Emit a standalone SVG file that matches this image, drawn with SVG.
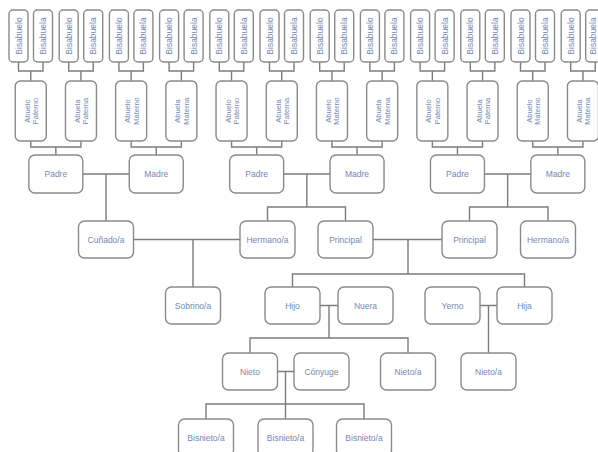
<svg xmlns="http://www.w3.org/2000/svg" width="598" height="452" viewBox="0 0 598 452">
<style>
rect{fill:#fff;stroke:#8a8a8a;stroke-width:1.4}
text{font-family:"Liberation Sans",Arial,sans-serif;font-size:8.5px;fill:#7488b0;text-anchor:middle;dominant-baseline:central}
.v{font-size:7.5px}
.c path{fill:none;stroke:#7c7c7c;stroke-width:1.4}
</style>
<rect x="0" y="0" width="598" height="452" style="fill:#fff;stroke:none"/>
<g class="c" id="connectors">
<path d="M18.5 62V71H43V62M30.75 71V81"/>
<path d="M68.7 62V71H93.2V62M80.95 71V81"/>
<path d="M118.9 62V71H143.4V62M131.15 71V81"/>
<path d="M169.1 62V71H193.6V62M181.35 71V81"/>
<path d="M219.3 62V71H243.8V62M231.55 71V81"/>
<path d="M269.5 62V71H294V62M281.75 71V81"/>
<path d="M319.7 62V71H344.2V62M331.95 71V81"/>
<path d="M369.9 62V71H394.4V62M382.15 71V81"/>
<path d="M420.1 62V71H444.6V62M432.35 71V81"/>
<path d="M470.3 62V71H494.8V62M482.55 71V81"/>
<path d="M520.5 62V71H545V62M532.75 71V81"/>
<path d="M570.7 62V71H595.2V62M582.95 71V81"/>
<path d="M30.75 141V147H80.95V141M55.85 147V155"/>
<path d="M131.15 141V147H181.35V141M156.25 147V155"/>
<path d="M231.55 141V147H281.75V141M256.65 147V155"/>
<path d="M331.95 141V147H382.15V141M357.05 147V155"/>
<path d="M432.35 141V147H482.55V141M457.45 147V155"/>
<path d="M532.75 141V147H582.95V141M557.85 147V155"/>
<path d="M82.85 174H129.25M106.05 174V221"/>
<path d="M283.65 174H330.05M306.85 174V207M267.5 221V207H345.5V221"/>
<path d="M484.45 174H530.85M507.65 174V207M469.5 221V207H548V221"/>
<path d="M133.5 239.5H240M193 239.5V287"/>
<path d="M373 239.5H442M408 239.5V274M292.5 287V274H524.5V287"/>
<path d="M320 305.5H338M329 305.5V338M250 353V338H408V353"/>
<path d="M480 305.5H497M488.5 305.5V353"/>
<path d="M277.5 371.5H294M285.5 371.5V404M206 419V404H364V419M285.5 404V419"/>
</g>
<g id="bis1"><rect x="9" y="10" width="19" height="52" rx="4"/><text transform="translate(18.5,36) rotate(-90)">Bisabuelo</text></g>
<g id="bis2"><rect x="33.5" y="10" width="19" height="52" rx="4"/><text transform="translate(43,36) rotate(-90)">Bisabuela</text></g>
<g id="bis3"><rect x="59.2" y="10" width="19" height="52" rx="4"/><text transform="translate(68.7,36) rotate(-90)">Bisabuelo</text></g>
<g id="bis4"><rect x="83.7" y="10" width="19" height="52" rx="4"/><text transform="translate(93.2,36) rotate(-90)">Bisabuela</text></g>
<g id="bis5"><rect x="109.4" y="10" width="19" height="52" rx="4"/><text transform="translate(118.9,36) rotate(-90)">Bisabuelo</text></g>
<g id="bis6"><rect x="133.9" y="10" width="19" height="52" rx="4"/><text transform="translate(143.4,36) rotate(-90)">Bisabuela</text></g>
<g id="bis7"><rect x="159.6" y="10" width="19" height="52" rx="4"/><text transform="translate(169.1,36) rotate(-90)">Bisabuelo</text></g>
<g id="bis8"><rect x="184.1" y="10" width="19" height="52" rx="4"/><text transform="translate(193.6,36) rotate(-90)">Bisabuela</text></g>
<g id="bis9"><rect x="209.8" y="10" width="19" height="52" rx="4"/><text transform="translate(219.3,36) rotate(-90)">Bisabuelo</text></g>
<g id="bis10"><rect x="234.3" y="10" width="19" height="52" rx="4"/><text transform="translate(243.8,36) rotate(-90)">Bisabuela</text></g>
<g id="bis11"><rect x="260" y="10" width="19" height="52" rx="4"/><text transform="translate(269.5,36) rotate(-90)">Bisabuelo</text></g>
<g id="bis12"><rect x="284.5" y="10" width="19" height="52" rx="4"/><text transform="translate(294,36) rotate(-90)">Bisabuela</text></g>
<g id="bis13"><rect x="310.2" y="10" width="19" height="52" rx="4"/><text transform="translate(319.7,36) rotate(-90)">Bisabuelo</text></g>
<g id="bis14"><rect x="334.7" y="10" width="19" height="52" rx="4"/><text transform="translate(344.2,36) rotate(-90)">Bisabuela</text></g>
<g id="bis15"><rect x="360.4" y="10" width="19" height="52" rx="4"/><text transform="translate(369.9,36) rotate(-90)">Bisabuelo</text></g>
<g id="bis16"><rect x="384.9" y="10" width="19" height="52" rx="4"/><text transform="translate(394.4,36) rotate(-90)">Bisabuela</text></g>
<g id="bis17"><rect x="410.6" y="10" width="19" height="52" rx="4"/><text transform="translate(420.1,36) rotate(-90)">Bisabuelo</text></g>
<g id="bis18"><rect x="435.1" y="10" width="19" height="52" rx="4"/><text transform="translate(444.6,36) rotate(-90)">Bisabuela</text></g>
<g id="bis19"><rect x="460.8" y="10" width="19" height="52" rx="4"/><text transform="translate(470.3,36) rotate(-90)">Bisabuelo</text></g>
<g id="bis20"><rect x="485.3" y="10" width="19" height="52" rx="4"/><text transform="translate(494.8,36) rotate(-90)">Bisabuela</text></g>
<g id="bis21"><rect x="511" y="10" width="19" height="52" rx="4"/><text transform="translate(520.5,36) rotate(-90)">Bisabuelo</text></g>
<g id="bis22"><rect x="535.5" y="10" width="19" height="52" rx="4"/><text transform="translate(545,36) rotate(-90)">Bisabuela</text></g>
<g id="bis23"><rect x="561.2" y="10" width="19" height="52" rx="4"/><text transform="translate(570.7,36) rotate(-90)">Bisabuelo</text></g>
<g id="bis24"><rect x="585.7" y="10" width="19" height="52" rx="4"/><text transform="translate(592.5,36) rotate(-90)">Bisabuela</text></g>
<g id="ab1"><rect x="15.25" y="81" width="31" height="60" rx="5"/><text class="v" transform="translate(30.75,111) rotate(-90)"><tspan x="0" y="-4">Abuelo</tspan><tspan x="0" y="4.5">Paterno</tspan></text></g>
<g id="ab2"><rect x="65.45" y="81" width="31" height="60" rx="5"/><text class="v" transform="translate(80.95,111) rotate(-90)"><tspan x="0" y="-4">Abuela</tspan><tspan x="0" y="4.5">Paterna</tspan></text></g>
<g id="ab3"><rect x="115.65" y="81" width="31" height="60" rx="5"/><text class="v" transform="translate(131.15,111) rotate(-90)"><tspan x="0" y="-4">Abuelo</tspan><tspan x="0" y="4.5">Materno</tspan></text></g>
<g id="ab4"><rect x="165.85" y="81" width="31" height="60" rx="5"/><text class="v" transform="translate(181.35,111) rotate(-90)"><tspan x="0" y="-4">Abuela</tspan><tspan x="0" y="4.5">Materna</tspan></text></g>
<g id="ab5"><rect x="216.05" y="81" width="31" height="60" rx="5"/><text class="v" transform="translate(231.55,111) rotate(-90)"><tspan x="0" y="-4">Abuelo</tspan><tspan x="0" y="4.5">Paterno</tspan></text></g>
<g id="ab6"><rect x="266.25" y="81" width="31" height="60" rx="5"/><text class="v" transform="translate(281.75,111) rotate(-90)"><tspan x="0" y="-4">Abuela</tspan><tspan x="0" y="4.5">Paterna</tspan></text></g>
<g id="ab7"><rect x="316.45" y="81" width="31" height="60" rx="5"/><text class="v" transform="translate(331.95,111) rotate(-90)"><tspan x="0" y="-4">Abuelo</tspan><tspan x="0" y="4.5">Materno</tspan></text></g>
<g id="ab8"><rect x="366.65" y="81" width="31" height="60" rx="5"/><text class="v" transform="translate(382.15,111) rotate(-90)"><tspan x="0" y="-4">Abuela</tspan><tspan x="0" y="4.5">Materna</tspan></text></g>
<g id="ab9"><rect x="416.85" y="81" width="31" height="60" rx="5"/><text class="v" transform="translate(432.35,111) rotate(-90)"><tspan x="0" y="-4">Abuelo</tspan><tspan x="0" y="4.5">Paterno</tspan></text></g>
<g id="ab10"><rect x="467.05" y="81" width="31" height="60" rx="5"/><text class="v" transform="translate(482.55,111) rotate(-90)"><tspan x="0" y="-4">Abuela</tspan><tspan x="0" y="4.5">Paterna</tspan></text></g>
<g id="ab11"><rect x="517.25" y="81" width="31" height="60" rx="5"/><text class="v" transform="translate(532.75,111) rotate(-90)"><tspan x="0" y="-4">Abuelo</tspan><tspan x="0" y="4.5">Materno</tspan></text></g>
<g id="ab12"><rect x="567.45" y="81" width="31" height="60" rx="5"/><text class="v" transform="translate(582.95,111) rotate(-90)"><tspan x="0" y="-4">Abuela</tspan><tspan x="0" y="4.5">Materna</tspan></text></g>
<g id="padre1"><rect x="28.85" y="155" width="54" height="38" rx="6"/><text x="55.85" y="174">Padre</text></g>
<g id="madre1"><rect x="129.25" y="155" width="54" height="38" rx="6"/><text x="156.25" y="174">Madre</text></g>
<g id="padre2"><rect x="229.65" y="155" width="54" height="38" rx="6"/><text x="256.65" y="174">Padre</text></g>
<g id="madre2"><rect x="330.05" y="155" width="54" height="38" rx="6"/><text x="357.05" y="174">Madre</text></g>
<g id="padre3"><rect x="430.45" y="155" width="54" height="38" rx="6"/><text x="457.45" y="174">Padre</text></g>
<g id="madre3"><rect x="530.85" y="155" width="54" height="38" rx="6"/><text x="557.85" y="174">Madre</text></g>
<g id="cunado"><rect x="78.5" y="221" width="55" height="37" rx="6"/><text x="106" y="239.5">Cuñado/a</text></g>
<g id="hermano1"><rect x="240" y="221" width="55" height="37" rx="6"/><text x="267.5" y="239.5">Hermano/a</text></g>
<g id="principal1"><rect x="318" y="221" width="55" height="37" rx="6"/><text x="345.5" y="239.5">Principal</text></g>
<g id="principal2"><rect x="442" y="221" width="55" height="37" rx="6"/><text x="469.5" y="239.5">Principal</text></g>
<g id="hermano2"><rect x="520.5" y="221" width="55" height="37" rx="6"/><text x="548" y="239.5">Hermano/a</text></g>
<g id="sobrino"><rect x="165.5" y="287" width="55" height="37" rx="6"/><text x="193" y="305.5">Sobrino/a</text></g>
<g id="hijo"><rect x="265" y="287" width="55" height="37" rx="6"/><text x="292.5" y="305.5">Hijo</text></g>
<g id="nuera"><rect x="338" y="287" width="55" height="37" rx="6"/><text x="365.5" y="305.5">Nuera</text></g>
<g id="yerno"><rect x="425" y="287" width="55" height="37" rx="6"/><text x="452.5" y="305.5">Yerno</text></g>
<g id="hija"><rect x="497" y="287" width="55" height="37" rx="6"/><text x="524.5" y="305.5">Hija</text></g>
<g id="nieto"><rect x="222.5" y="353" width="55" height="37" rx="6"/><text x="250" y="371.5">Nieto</text></g>
<g id="conyuge"><rect x="294" y="353" width="55" height="37" rx="6"/><text x="321.5" y="371.5">Cónyuge</text></g>
<g id="nieta1"><rect x="380.5" y="353" width="55" height="37" rx="6"/><text x="408" y="371.5">Nieto/a</text></g>
<g id="nieta2"><rect x="461" y="353" width="55" height="37" rx="6"/><text x="488.5" y="371.5">Nieto/a</text></g>
<g id="bisnieto1"><rect x="178.5" y="419" width="55" height="37" rx="6"/><text x="206" y="437.5">Bisnieto/a</text></g>
<g id="bisnieto2"><rect x="258" y="419" width="55" height="37" rx="6"/><text x="285.5" y="437.5">Bisnieto/a</text></g>
<g id="bisnieto3"><rect x="336.5" y="419" width="55" height="37" rx="6"/><text x="364" y="437.5">Bisnieto/a</text></g>
</svg>
